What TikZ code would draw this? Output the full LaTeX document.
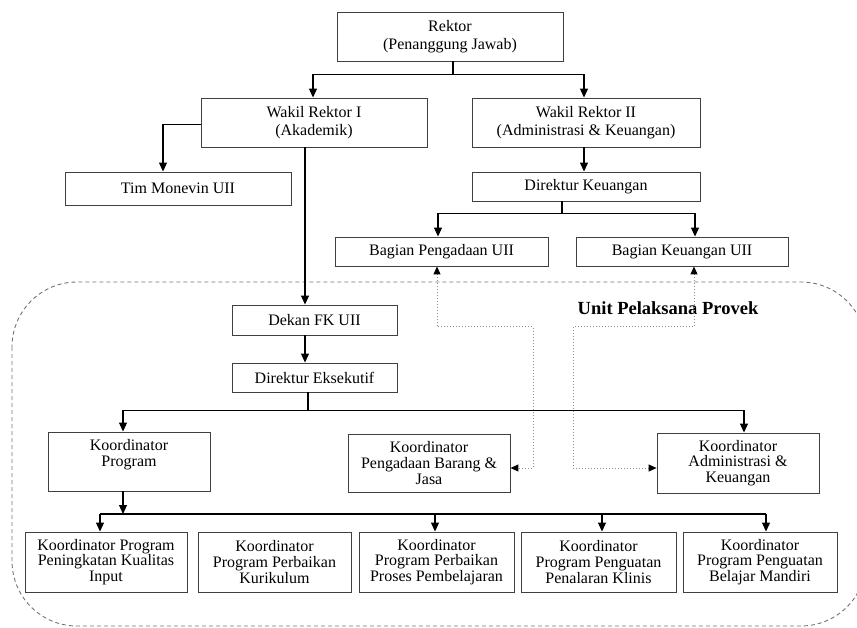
\documentclass[tikz,border=0pt]{standalone}
\usepackage{fontspec}
\setmainfont{Liberation Serif}
\usetikzlibrary{arrows.meta}
\begin{document}
\begin{tikzpicture}[x=1pt,y=-1pt,
 box/.style={draw=black!75, line width=0.9pt, inner sep=0pt, align=center, fill=white,
   font=\fontsize{16}{15.6}\selectfont},
 bigbox/.style={box, font=\fontsize{16}{18}\selectfont},
 arr/.style={line width=1.1pt, -{Triangle[length=9pt,width=8pt]}},
 ln/.style={line width=1.1pt},
 dots/.style={draw=black!45, line width=1pt, dotted,
   {Triangle[length=8pt,width=7pt,color=black,fill=black]}-{Triangle[length=8pt,width=7pt,color=black,fill=black]}},
 region/.style={draw=black!55, line width=0.9pt, dash pattern=on 4pt off 3pt, rounded corners=65pt}]
\useasboundingbox (0,0) rectangle (857,628);

% dashed project region
\draw[region] (12,282) rectangle (866,626);
\node[font=\bfseries\fontsize{18.5}{20}\selectfont] (upp) at (668,308) {Unit Pelaksana Provek};

% top nodes
\node[bigbox, minimum width=226, minimum height=49] (rektor) at (450,36.5) {Rektor\\(Penanggung Jawab)};
\node[bigbox, minimum width=226, minimum height=49] (wr1) at (314,122.5) {Wakil Rektor I\\(Akademik)};
\node[bigbox, minimum width=228, minimum height=49] (wr2) at (586,122.5) {Wakil Rektor II\\(Administrasi \& Keuangan)};
\node[box, minimum width=226, minimum height=33] (tim) at (178,188.5) {Tim Monevin UII};
\node[box, minimum width=228, minimum height=29] (dirk) at (586,186.5) {Direktur Keuangan};
\node[box, minimum width=213, minimum height=29] (bpeng) at (441.5,251.5) {Bagian Pengadaan UII};
\node[box, minimum width=212, minimum height=29] (bkeu) at (682,251.5) {Bagian Keuangan UII};

% inside region
\node[box, minimum width=165, minimum height=30] (dekan) at (314.5,320) {Dekan FK UII};
\node[box, minimum width=165, minimum height=29] (direks) at (314.5,377.5) {Direktur Eksekutif};
\node[box, minimum width=162, minimum height=59] (kprog) at (129,461.5) {};
\node[font=\fontsize{16}{15.6}\selectfont, align=center, anchor=north, inner sep=0pt] (kprogtxt) at ([yshift=-8]kprog.north) {Koordinator\\Program};
\node[box, minimum width=162, minimum height=58] (kpbj) at (429,463) {Koordinator\\Pengadaan Barang \&\\Jasa};
\node[box, minimum width=162, minimum height=60] (kadm) at (738,463) {Koordinator\\Administrasi \&\\Keuangan};

% bottom row
\node[box, minimum width=162, minimum height=60] (b1) at (106,562) {Koordinator Program\\Peningkatan Kualitas\\Input};
\node[box, minimum width=153, minimum height=60] (b2) at (274.5,562) {Koordinator\\Program Perbaikan\\Kurikulum};
\node[box, minimum width=155, minimum height=60] (b3) at (436.5,562) {Koordinator\\Program Perbaikan\\Proses Pembelajaran};
\node[box, minimum width=155, minimum height=60] (b4) at (598.5,562) {Koordinator\\Program Penguatan\\Penalaran Klinis};
\node[box, minimum width=154, minimum height=60] (b5) at (760,562) {Koordinator\\Program Penguatan\\Belajar Mandiri};

% connectors
\draw[arr] ([xshift=3]rektor.south) -- ++(0,13) -| ([xshift=-1]wr1.north);
\draw[arr] ([xshift=3]rektor.south) -- ++(0,13) -| ([xshift=-2]wr2.north);
\draw[arr] ([yshift=-2]wr1.west) -| ([xshift=-15]tim.north);
\draw[arr] ([xshift=-9]wr1.south) -- ([xshift=-9.5]dekan.north);
\draw[arr] ([xshift=-2]wr2.south) -- ([xshift=-2]dirk.north);
\draw[arr] ([xshift=-24]dirk.south) -- ++(0,12) -| ([xshift=-3.5]bpeng.north);
\draw[arr] ([xshift=-24]dirk.south) -- ++(0,12) -| ([xshift=13]bkeu.north);
\draw[arr] ([xshift=-9.5]dekan.south) -- ([xshift=-9.5]direks.north);
\draw[arr] ([xshift=-6.5]direks.south) -- ++(0,18) -| ([xshift=-6]kprog.north);
\draw[arr] ([xshift=-6.5]direks.south) -- ++(0,18) -| ([xshift=6]kadm.north);

\coordinate (barL) at (100,514);
\coordinate (barR) at (766,514);
\draw[ln] (barL) -- (barR);
\draw[arr] ([xshift=-6]kprog.south) -- ([xshift=-6]kprog.south |- barL);
\draw[arr] (barL) -- (barL |- b1.north);
\draw[arr] ([xshift=-1.5]b3.north |- barL) -- ([xshift=-1.5]b3.north);
\draw[arr] ([xshift=3.5]b4.north |- barL) -- ([xshift=3.5]b4.north);
\draw[arr] (barR) -- (barR |- b5.north);

% dotted links
\coordinate (d1) at (533,327);
\coordinate (d2) at (573,327);
\draw[dots] ([xshift=-4.5]bpeng.south) |- (d1) |- ([yshift=-5]kpbj.east);
\draw[dots] ([xshift=12]bkeu.south) |- (d2) |- ([yshift=-5]kadm.west);
\end{tikzpicture}
\end{document}
